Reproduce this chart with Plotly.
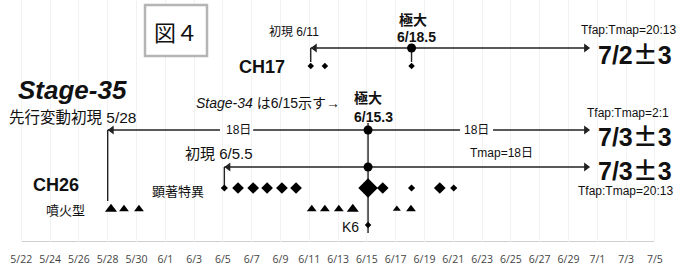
import plotly.graph_objects as go

# ---------------- data (day number: May d = d, June d = 31+d, July d = 61+d) ----------------
tick_days = list(range(22, 67, 2))
tick_labels = ["5/22", "5/24", "5/26", "5/28", "5/30", "6/1", "6/3", "6/5", "6/7", "6/9",
               "6/11", "6/13", "6/15", "6/17", "6/19", "6/21", "6/23", "6/25", "6/27",
               "6/29", "7/1", "7/3", "7/5"]

ch17_first = 42.1
ch17_peak = 49.1
ch17_end = 61.5
ch17_diamond_days = [42.1, 43.08, 49.1]

stage_first = 28.0
stage_peak = 46.08
stage_end = 61.5
stage_gap_days = [(35.8, 38.1), (52.47, 54.76)]

ch26_first = 36.1
ch26_peak = 46.08
ch26_end = 61.5
ch26_diamond_days = [36.1, 37.05, 38.1, 39.07, 40.1, 41.08, 46.08, 47.1, 49.1, 51.06, 52.03]
ch26_diamond_level = [1, 2, 2, 2, 2, 2, 3, 2, 1, 2, 1]

eruption_days = [28.23, 29.13, 30.17, 42.17, 43.08, 44.05, 45.02, 48.08, 49.06]
eruption_level = [3, 2, 2, 2, 2, 2, 3, 1, 2]

k6_day = 46.08

# ---------------- layout helpers ----------------
W, H = 689, 267
PX_DAY = 14.4
X0_PX = 21.3  # pixel of day 22


def px2d(px):
    return 22 + (px - X0_PX) / PX_DAY


x_range = [px2d(0), px2d(W)]
PLOT_H = 242  # y axis in pixel-like units, 0 top

ROW_CH17 = 48
ROW_CH17_MARK = 66
ROW_STAGE = 130
ROW_CH26 = 167
ROW_CH26_MARK = 188
ROW_TRI = 209
ROW_K6 = 225

LINE_COL = "#222222"
INK = "#111111"
SANS = "Liberation Sans, Arial, Noto Sans CJK JP, sans-serif"
JP = "Noto Sans CJK JP, sans-serif"

fig = go.Figure()

# line segments
lx, ly = [], []


def seg(x0, y0, x1, y1):
    lx.extend([x0, x1, None])
    ly.extend([y0, y1, None])


# CH17
seg(ch17_first, ROW_CH17, ch17_end - 0.2, ROW_CH17)
seg(ch17_first, ROW_CH17, ch17_first, ROW_CH17_MARK - 4)
seg(ch17_peak, ROW_CH17, ch17_peak, ROW_CH17_MARK - 4)
# Stage-35 with gaps for labels
pts = [stage_first]
for a, b in stage_gap_days:
    pts += [a, b]
pts += [stage_end - 0.2]
for i in range(0, len(pts), 2):
    seg(pts[i], ROW_STAGE, pts[i + 1], ROW_STAGE)
seg(stage_first, ROW_STAGE, stage_first, 201)
# CH26
seg(ch26_first, ROW_CH26, ch26_end - 0.2, ROW_CH26)
seg(ch26_first, ROW_CH26, ch26_first, ROW_CH26_MARK - 2)
# peak vertical
seg(stage_peak, 123, stage_peak, 233)

fig.add_trace(go.Scatter(x=lx, y=ly, mode="lines", line=dict(color=LINE_COL, width=1.4),
                         hoverinfo="skip", showlegend=False))


def mk(symbol, size, color="#000"):
    return dict(symbol=symbol, size=size, color=color, opacity=1, line=dict(width=0))


# arrowheads
ah = 8
off = (ah / 2) / PX_DAY
fig.add_trace(go.Scatter(
    x=[ch17_end - off, stage_end - off, ch26_end - off],
    y=[ROW_CH17, ROW_STAGE, ROW_CH26], mode="markers",
    marker=mk("triangle-right", ah, LINE_COL), hoverinfo="skip", showlegend=False))
fig.add_trace(go.Scatter(
    x=[ch17_first + off, stage_first + off, ch26_first + off],
    y=[ROW_CH17, ROW_STAGE, ROW_CH26], mode="markers",
    marker=mk("triangle-left", ah, LINE_COL), hoverinfo="skip", showlegend=False))

# peak dots
fig.add_trace(go.Scatter(
    x=[ch17_peak, stage_peak, ch26_peak], y=[ROW_CH17, ROW_STAGE, ROW_CH26],
    mode="markers", marker=mk("circle", 9), hoverinfo="skip", showlegend=False))

# CH17 diamonds
fig.add_trace(go.Scatter(
    x=ch17_diamond_days, y=[ROW_CH17_MARK] * len(ch17_diamond_days), mode="markers",
    marker=mk("diamond", 5), hoverinfo="skip", showlegend=False))

# CH26 diamonds
dsize = {1: 5.5, 2: 9, 3: 15}
fig.add_trace(go.Scatter(
    x=ch26_diamond_days, y=[ROW_CH26_MARK] * len(ch26_diamond_days), mode="markers",
    marker=mk("diamond", [dsize[v] for v in ch26_diamond_level]),
    hoverinfo="skip", showlegend=False))

# eruption triangles
tsize = {1: 7, 2: 8.5, 3: 10.5}
fig.add_trace(go.Scatter(
    x=eruption_days, y=[ROW_TRI] * len(eruption_days), mode="markers",
    marker=mk("triangle-up", [tsize[v] for v in eruption_level]),
    hoverinfo="skip", showlegend=False))

# K6
fig.add_trace(go.Scatter(
    x=[k6_day], y=[ROW_K6], mode="markers",
    marker=mk("diamond", 5), hoverinfo="skip", showlegend=False))

# baseline
fig.add_shape(type="line", x0=tick_days[0], x1=tick_days[-1], y0=PLOT_H - 0.5, y1=PLOT_H - 0.5,
              xref="x", yref="y", line=dict(color="#d0d0d0", width=1), layer="below")

# figure label box
fig.add_shape(type="rect", x0=px2d(145), x1=px2d(207), y0=5, y1=56, xref="x", yref="y",
              line=dict(color="#b5b5b5", width=2.5), fillcolor="white")

PM = "<span style=\"font-family:'Noto Sans CJK JP'\">±</span>"


def txt(px, py, text, size, family=SANS, color=INK, xanchor="center"):
    fig.add_annotation(x=px2d(px), y=py, xref="x", yref="y", text=text, showarrow=False,
                       font=dict(size=size, family=family, color=color),
                       xanchor=xanchor, yanchor="middle")


txt(176, 31, "図４", 22, family=JP)
txt(294, 32, "初現 6/11", 12)
txt(397, 20, "<b>極大</b>", 14, xanchor="left")
txt(395, 37, "<b>6/18.5</b>", 14, xanchor="left")
txt(628, 30, "Tfap:Tmap=20:13", 12)
txt(635, 53, "<b>7/2" + PM + "3</b>", 25)
txt(262, 67, "<b>CH17</b>", 18)

txt(72, 90, "<b><i>Stage-35</i></b>", 26)
txt(72, 117, "先行変動初現 5/28", 15.5)
txt(268, 103, "<i>Stage-34</i> は6/15示す→", 14)
txt(352, 98, "<b>極大</b>", 14, xanchor="left")
txt(352, 117, "<b>6/15.3</b>", 14, xanchor="left")
txt(238, 130, "18日", 12)
txt(476, 130, "18日", 12)
txt(628, 113, "Tfap:Tmap=2:1", 12)
txt(635, 135, "<b>7/3" + PM + "3</b>", 25)

txt(219, 153, "初現 6/5.5", 15)
txt(501, 153, "Tmap=18日", 12)
txt(635, 169, "<b>7/3" + PM + "3</b>", 25)
txt(625, 191, "Tfap:Tmap=20:13", 12)
txt(56, 185, "<b>CH26</b>", 18)
txt(65, 210, "噴火型", 13)
txt(178, 191, "顕著特異", 13)
txt(350, 227, "K6", 14)

fig.update_layout(
    width=W, height=H,
    margin=dict(l=0, r=0, t=0, b=H - PLOT_H),
    paper_bgcolor="white", plot_bgcolor="white",
    showlegend=False,
    xaxis=dict(range=x_range, tickvals=tick_days, ticktext=tick_labels,
               showgrid=True, gridcolor="#f2f2f2", gridwidth=1, zeroline=False,
               showline=False, ticks="outside", ticklen=7, tickcolor="rgba(255,255,255,0)",
               tickfont=dict(size=10.5, family="Open Sans, DejaVu Sans, sans-serif", color="#444")),
    yaxis=dict(range=[PLOT_H, 0], showgrid=False, zeroline=False, showticklabels=False,
               showline=False),
)

fig.write_html("out.html", config={"displayModeBar": False},
               post_script="document.body.style.margin='0';document.body.style.overflow='hidden';")
